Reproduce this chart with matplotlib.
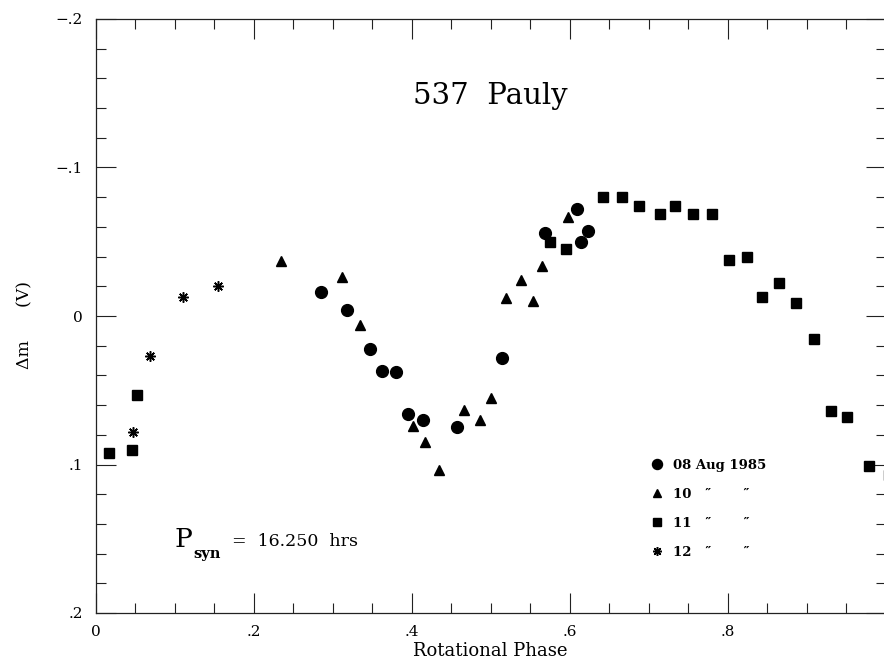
import matplotlib.pyplot as plt
from matplotlib.ticker import MultipleLocator, FuncFormatter

# lightcurve of 537 Pauly, phase folded with P = 16.250 h
phase_08 = [0.285, 0.318, 0.347, 0.363, 0.381, 0.396, 0.414, 0.458, 0.515, 0.569, 0.609, 0.615, 0.623]
dmag_08  = [-0.016, -0.004, 0.022, 0.037, 0.038, 0.066, 0.070, 0.075, 0.028, -0.056, -0.072, -0.050, -0.057]

phase_10 = [0.2345, 0.312, 0.335, 0.402, 0.417, 0.435, 0.466, 0.487, 0.500, 0.520, 0.539, 0.554, 0.565, 0.598]
dmag_10  = [-0.037, -0.026, 0.006, 0.074, 0.085, 0.104, 0.063, 0.070, 0.055, -0.012, -0.024, -0.010, -0.034, -0.067]

phase_11 = [0.017, 0.046, 0.053, 0.575, 0.595, 0.642, 0.667, 0.688, 0.714, 0.733, 0.756, 0.780,
            0.802, 0.825, 0.844, 0.865, 0.887, 0.910, 0.931, 0.9515, 0.979, 1.004]
dmag_11  = [0.092, 0.090, 0.053, -0.050, -0.045, -0.080, -0.080, -0.074, -0.069, -0.074, -0.069, -0.069,
            -0.0375, -0.0395, -0.013, -0.022, -0.009, 0.0155, 0.064, 0.068, 0.101, 0.107]

phase_12 = [0.048, 0.069, 0.1105, 0.1555]
dmag_12  = [0.078, 0.027, -0.013, -0.020]

nights = ["08 Aug 1985", "10   \u2033       \u2033", "11   \u2033       \u2033", "12   \u2033       \u2033"]

plt.rcParams["font.family"] = ["DejaVu Serif"]

fig = plt.figure(figsize=(8.84, 6.63), dpi=100)
ax = fig.add_axes([95.5 / 884, 50 / 663, 790 / 884, 594 / 663])

k = dict(color="black", linestyle="none", clip_on=False)
h1, = ax.plot(phase_08, dmag_08, marker="o", markersize=8.5, **k)
h2, = ax.plot(phase_10, dmag_10, marker="^", markersize=7.5, **k)
h3, = ax.plot(phase_11, dmag_11, marker="s", markersize=6.5, **k)
h4, = ax.plot(phase_12, dmag_12, marker=(8, 2, 0), markersize=7.5, markeredgewidth=1.1, **k)

ax.set_xlim(0, 1.0)
ax.set_ylim(0.2, -0.2)

ax.xaxis.set_major_locator(MultipleLocator(0.2))
ax.xaxis.set_minor_locator(MultipleLocator(0.05))
ax.yaxis.set_major_locator(MultipleLocator(0.1))
ax.yaxis.set_minor_locator(MultipleLocator(0.02))

def short(v, pos):
    if abs(v) < 1e-9:
        return "0"
    s = "%.1f" % abs(v)
    s = s.lstrip("0")
    return ("\u2212" + s) if v < 0 else s

ax.xaxis.set_major_formatter(FuncFormatter(short))
ax.yaxis.set_major_formatter(FuncFormatter(short))
ax.set_xticks([0, 0.2, 0.4, 0.6, 0.8])

ax.tick_params(which="both", direction="in", top=True, right=True, width=0.8, color="#222222")
ax.tick_params(which="major", length=14.5, labelsize=11, pad=9)
ax.tick_params(which="minor", length=7.2)
for s in ax.spines.values():
    s.set_linewidth(0.9)
    s.set_color("#222222")
ax.spines["right"].set_visible(False)

ax.set_xlabel("Rotational Phase", fontsize=13, labelpad=2)
ax.set_ylabel("\u0394m      (V)", fontsize=12.5, va="center")
ax.yaxis.set_label_coords(-0.09, 0.485)

ax.text(0.5, 0.870, "537  Pauly", transform=ax.transAxes, ha="center", va="center", fontsize=21)

ax.text(0.1006, 0.1116, "P", transform=ax.transAxes, ha="left", va="baseline", fontsize=19)
ax.text(0.1234, 0.0926, "syn", transform=ax.transAxes, ha="left", va="baseline", fontsize=10.5, fontweight="bold")
ax.text(0.1728, 0.1130, "=  16.250  hrs", transform=ax.transAxes, ha="left", va="baseline", fontsize=12.5)

ax.legend([h1, h2, h3, h4], nights, loc="upper left", bbox_to_anchor=(0.7024, 0.2600),
          frameon=False, borderpad=0, borderaxespad=0, handlelength=1.0, handletextpad=0.7,
          labelspacing=1.22, numpoints=1, markerscale=0.85,
          prop=dict(family="DejaVu Serif", weight="bold", size=9.5))

fig.savefig("out.png", dpi=100)
